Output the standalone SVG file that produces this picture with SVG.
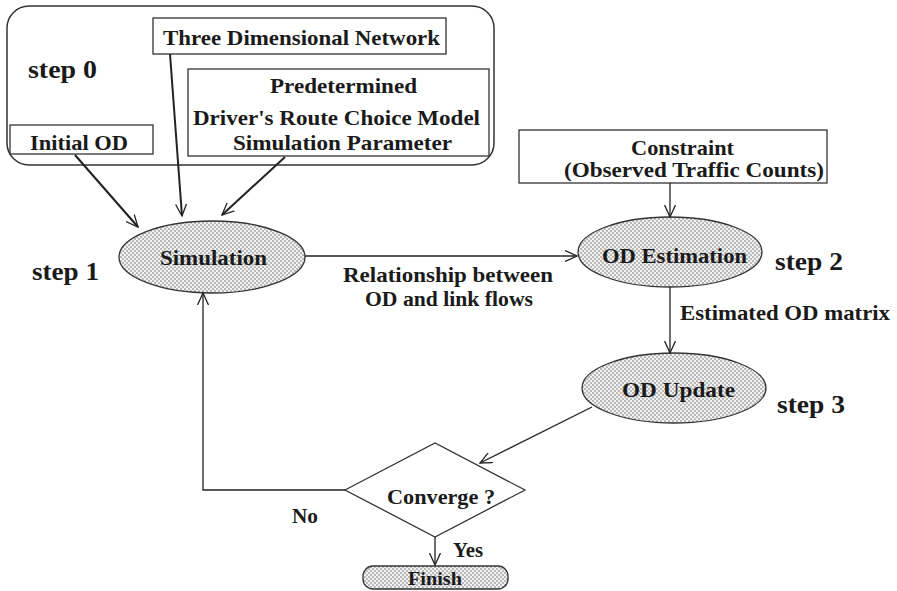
<svg xmlns="http://www.w3.org/2000/svg" width="897" height="591" viewBox="0 0 897 591">
  <defs>
    <pattern id="stipple" width="4" height="4" patternUnits="userSpaceOnUse">
      <rect width="4" height="4" fill="#f2f2f2"/>
      <circle cx="1" cy="1" r="0.75" fill="#666"/>
      <circle cx="3" cy="3" r="0.75" fill="#666"/>
    </pattern>
    <marker id="vhead" markerWidth="14" markerHeight="12" refX="12" refY="6" orient="auto" markerUnits="userSpaceOnUse">
      <path d="M0,0.5 L12,6 L0,11.5" fill="none" stroke="#222" stroke-width="1.3"/>
    </marker>
  </defs>
  <style>
    text { font-family: "Liberation Serif", "Times New Roman", serif; font-weight: bold; fill: #1a1a1a; }
    .lbl { font-size: 21px; }
    .step { font-size: 25px; }
    .box { fill: #fff; stroke: #333; stroke-width: 1.3; }
    .shaded { fill: url(#stipple); stroke: #333; stroke-width: 1.3; }
    .conn { fill: none; stroke: #222; stroke-width: 1.3; }
    .conn-bold { fill: none; stroke: #222; stroke-width: 2; }
  </style>
  <rect width="897" height="591" fill="#fff"/>

  <!-- step 0: input group -->
  <g id="inputs">
    <rect x="7" y="6" width="487" height="159" rx="22" ry="22" fill="none" stroke="#333" stroke-width="1.5"/>
    <text class="step" x="28" y="78" textLength="69" lengthAdjust="spacingAndGlyphs">step 0</text>
  </g>
  <g id="network">
    <rect class="box" x="153" y="18" width="293" height="36"/>
    <text class="lbl" x="163" y="45" textLength="277" lengthAdjust="spacingAndGlyphs">Three Dimensional Network</text>
  </g>
  <g id="predetermined">
    <rect class="box" x="188" y="69" width="301" height="87"/>
    <text class="lbl" x="270" y="93" textLength="147" lengthAdjust="spacingAndGlyphs">Predetermined</text>
    <text class="lbl" x="193" y="125" textLength="287" lengthAdjust="spacingAndGlyphs">Driver's Route Choice Model</text>
    <text class="lbl" x="233" y="150" textLength="219" lengthAdjust="spacingAndGlyphs">Simulation Parameter</text>
  </g>
  <g id="initial-od">
    <rect class="box" x="10" y="125" width="143" height="29"/>
    <text class="lbl" x="30" y="150" textLength="98" lengthAdjust="spacingAndGlyphs">Initial OD</text>
  </g>

  <!-- constraint -->
  <g id="constraint">
    <rect class="box" x="519" y="130" width="308" height="53"/>
    <text class="lbl" x="631" y="155" textLength="103" lengthAdjust="spacingAndGlyphs">Constraint</text>
    <text class="lbl" x="564" y="177" textLength="260" lengthAdjust="spacingAndGlyphs">(Observed Traffic Counts)</text>
  </g>

  <!-- step 1 -->
  <g id="simulation">
    <ellipse class="shaded" cx="212" cy="257" rx="93" ry="36"/>
    <text class="lbl" x="160" y="265" textLength="107" lengthAdjust="spacingAndGlyphs">Simulation</text>
    <text class="step" x="32" y="280" textLength="67" lengthAdjust="spacingAndGlyphs">step 1</text>
  </g>

  <!-- step 2 -->
  <g id="od-estimation">
    <ellipse class="shaded" cx="670" cy="252" rx="92" ry="35"/>
    <text class="lbl" x="602" y="263" textLength="145" lengthAdjust="spacingAndGlyphs">OD Estimation</text>
    <text class="step" x="775" y="270" textLength="68" lengthAdjust="spacingAndGlyphs">step 2</text>
  </g>

  <!-- step 3 -->
  <g id="od-update">
    <ellipse class="shaded" cx="674" cy="388" rx="92" ry="35"/>
    <text class="lbl" x="622" y="397" textLength="113" lengthAdjust="spacingAndGlyphs">OD Update</text>
    <text class="step" x="777" y="413" textLength="68" lengthAdjust="spacingAndGlyphs">step 3</text>
  </g>

  <!-- convergence test -->
  <g id="converge">
    <polygon class="box" points="345,490 435,443 525,490 435,537"/>
    <text class="lbl" x="387" y="504" textLength="108" lengthAdjust="spacingAndGlyphs">Converge ?</text>
  </g>

  <g id="finish">
    <rect class="shaded" x="363" y="566" width="145" height="23" rx="10" ry="10"/>
    <text x="408" y="585" font-size="19" textLength="54" lengthAdjust="spacingAndGlyphs">Finish</text>
  </g>

  <!-- connectors -->
  <g id="connectors">
    <line class="conn-bold" x1="75" y1="155" x2="138" y2="227" marker-end="url(#vhead)"/>
    <line class="conn-bold" x1="170" y1="54" x2="182" y2="216" marker-end="url(#vhead)"/>
    <line class="conn-bold" x1="285" y1="157" x2="222" y2="215" marker-end="url(#vhead)"/>
    <line class="conn" x1="305" y1="256" x2="577" y2="256" marker-end="url(#vhead)"/>
    <line class="conn" x1="670" y1="183" x2="670" y2="217" marker-end="url(#vhead)"/>
    <line class="conn" x1="670" y1="287" x2="670" y2="353" marker-end="url(#vhead)"/>
    <line class="conn" x1="592" y1="407" x2="480" y2="463" marker-end="url(#vhead)"/>
    <polyline class="conn" points="345,490 203,490 203,293" marker-end="url(#vhead)"/>
    <line class="conn" x1="435" y1="537" x2="435" y2="565" marker-end="url(#vhead)"/>
  </g>

  <!-- connector labels -->
  <g id="connector-labels">
    <text class="lbl" x="343" y="282" textLength="210" lengthAdjust="spacingAndGlyphs">Relationship between</text>
    <text class="lbl" x="365" y="306" textLength="168" lengthAdjust="spacingAndGlyphs">OD and link flows</text>
    <text class="lbl" x="680" y="320" textLength="210" lengthAdjust="spacingAndGlyphs">Estimated OD matrix</text>
    <text class="lbl" x="292" y="523" textLength="26" lengthAdjust="spacingAndGlyphs">No</text>
    <text class="lbl" x="453" y="557" textLength="30" lengthAdjust="spacingAndGlyphs">Yes</text>
  </g>
</svg>
